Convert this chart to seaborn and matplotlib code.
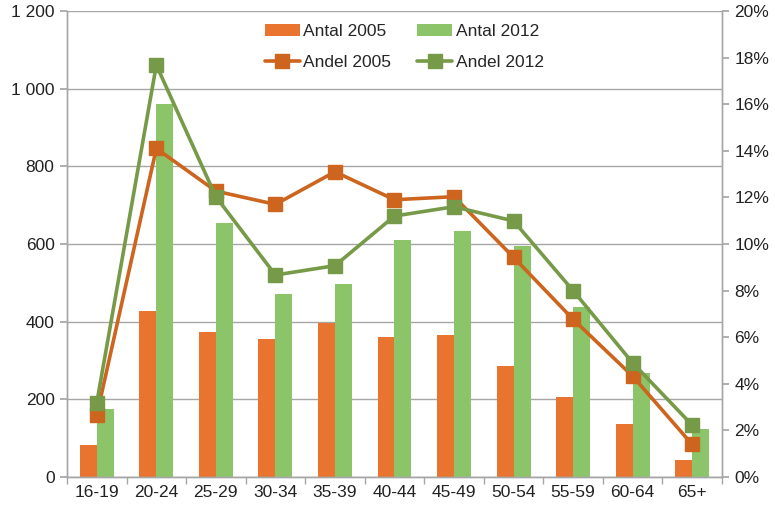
import numpy as np
import pandas as pd
import matplotlib
matplotlib.use("Agg")
import matplotlib.pyplot as plt
import matplotlib.ticker as mticker
import seaborn as sns
from matplotlib.patches import Patch
from matplotlib.lines import Line2D

ages = ["16-19", "20-24", "25-29", "30-34", "35-39", "40-44", "45-49",
        "50-54", "55-59", "60-64", "65+"]
antal_2005 = [82, 427, 373, 356, 397, 361, 365, 287, 207, 136, 44]
antal_2012 = [176, 961, 655, 472, 497, 610, 633, 596, 437, 267, 124]
andel_2005 = [2.66, 14.1, 12.27, 11.7, 13.1, 11.9, 12.03, 9.43, 6.77, 4.33, 1.4]
andel_2012 = [3.19, 17.68, 12.03, 8.67, 9.07, 11.2, 11.6, 10.99, 8.0, 4.9, 2.23]

c_bar05 = "#E8742F"
c_bar12 = "#8CC46A"
c_line05 = "#CD651F"
c_line12 = "#779A48"
grid_c = "#A6A6A6"

sns.set_theme(style="white")
plt.rcParams["font.family"] = ["Liberation Sans", "DejaVu Sans"]

bars = pd.DataFrame({
    "age": ages * 2,
    "value": antal_2005 + antal_2012,
    "series": ["Antal 2005"] * len(ages) + ["Antal 2012"] * len(ages),
})

fig = plt.figure(figsize=(7.75, 5.11), dpi=100)
ax = fig.add_axes([0.0865, 0.0665, 0.845, 0.912])

sns.barplot(data=bars, x="age", y="value", hue="series", order=ages,
            palette=[c_bar05, c_bar12], width=0.57, saturation=1,
            linewidth=0, ax=ax, legend=False, zorder=2)

ax.set_ylim(0, 1200)
ax.set_yticks(np.arange(0, 1201, 200))
ax.yaxis.set_major_formatter(mticker.FuncFormatter(
    lambda v, p: f"{int(v):,}".replace(",", " ")))
ax.grid(axis="y", color=grid_c, linewidth=1.0, zorder=0)
ax.set_axisbelow(True)
ax.set_xlabel("")
ax.set_ylabel("")

lw = 2.6
ms = 10
ax2 = ax.twinx()
ax2.plot(range(len(ages)), andel_2005, color=c_line05, linewidth=lw,
         marker="s", markersize=ms, zorder=3)
ax2.plot(range(len(ages)), andel_2012, color=c_line12, linewidth=lw,
         marker="s", markersize=ms, zorder=3)
ax2.set_ylim(0, 20)
ax2.set_yticks(np.arange(0, 21, 2))
ax2.yaxis.set_major_formatter(mticker.FuncFormatter(lambda v, p: f"{int(v)}%"))
ax2.set_xlim(-0.5, len(ages) - 0.5)
ax.set_xlim(-0.5, len(ages) - 0.5)

for a in (ax, ax2):
    a.spines["top"].set_visible(False)
    for s in ["left", "right", "bottom"]:
        a.spines[s].set_color(grid_c)
        a.spines[s].set_linewidth(1.0)

ax.tick_params(axis="y", which="major", left=True, length=5, color=grid_c,
               labelsize=12.5, labelcolor="#222222", pad=4)
ax2.tick_params(axis="y", which="major", right=True, length=5, color=grid_c,
                labelsize=12.5, labelcolor="#222222", pad=4)
ax.set_xticks(range(len(ages)))
ax.set_xticklabels(ages)
ax.tick_params(axis="x", which="major", length=0, labelsize=12.5,
               labelcolor="#222222", pad=6)
ax.set_xticks(np.arange(-0.5, len(ages), 1.0), minor=True)
ax.tick_params(axis="x", which="minor", bottom=True, length=5, color=grid_c)

handles = [
    Patch(facecolor=c_bar05, edgecolor="none"),
    Line2D([], [], color=c_line05, linewidth=lw, marker="s", markersize=ms),
    Patch(facecolor=c_bar12, edgecolor="none"),
    Line2D([], [], color=c_line12, linewidth=lw, marker="s", markersize=ms),
]
labels = ["Antal 2005", "Andel 2005", "Antal 2012", "Andel 2012"]
leg = ax2.legend(handles, labels, ncol=2, loc="upper center",
                 bbox_to_anchor=(0.515, 1.005), frameon=False, fontsize=12.5,
                 handlelength=2.0, handleheight=0.7, handletextpad=0.2,
                 columnspacing=1.5, labelspacing=0.9)

fig.savefig("out.png", dpi=100)
